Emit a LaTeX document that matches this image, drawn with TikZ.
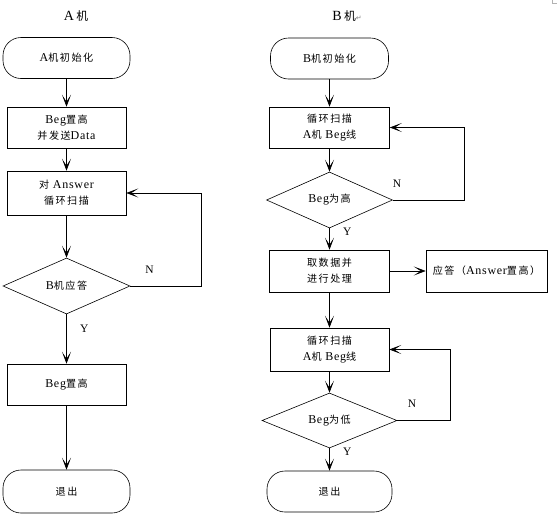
\documentclass[tikz,border=0pt]{standalone}
\usepackage{fontspec}
\setmainfont[LetterSpace=6]{Liberation Serif}
\newfontfamily\zhfont[LetterSpace=15, Scale=0.84]{Noto Sans CJK SC}
\newfontfamily\symfont{DejaVu Sans}
\newcommand\zh[1]{{\zhfont #1}}
\usetikzlibrary{positioning, arrows.meta, shapes.geometric}
\tikzset{
    x=1pt, y=-1pt,
    every node/.style={ % text in allen knoten
        font=\fontsize{12}{16}\selectfont
    },
    start/.style={draw, rounded corners=18pt, minimum height=41pt},
    block/.style={draw, minimum width=119pt, minimum height=41pt, align=center},
    check/.style={draw, diamond, aspect=2.3, minimum width=127pt,
        minimum height=56pt, inner sep=0pt},
    title/.style={font=\fontsize{14}{14}\selectfont},
    every edge/.style={ % pfeile zwischen den knoten
        draw,
        -{Stealth[length=12pt,width=9pt,inset=7pt]},
        line width=0.6pt
    },
    flow/.style={-{Stealth[length=12pt,width=9pt,inset=7pt]}, line width=0.6pt},
    lbl/.style={font=\fontsize{11.5}{12}\selectfont}
}
\begin{document}
\begin{tikzpicture}[line width=0.6pt]
    \useasboundingbox (0,0) rectangle (557,520);
    % A-seite
    \node[title]                                 (titA)   at (76,16)      {A\,\zh{机}};
    \node[start, minimum width=127pt]            (initA)  at (66.5,58)    {A\zh{机初始化}};
    \node[block]                                 (setA)   at (66.5,127.5) {Beg\zh{置高}\\\zh{并发送}Data};
    \node[block, minimum height=44pt]            (scanA)  at (66.5,193)   {\zh{对} Answer\\\zh{循环扫描}};
    \node[check]                                 (askA)   at (66.5,286)   {B\zh{机应答}};
    \node[block]                                 (highA)  at (66.5,384.5) {Beg\zh{置高}};
    \node[start, minimum width=127pt,
          minimum height=43pt]                   (quitA)  at (66.5,491.5) {\zh{退出}};
    % B-seite
    \node[title]                                 (titB)   at (347,16)
        {B\,\zh{机}{\symfont\fontsize{7}{7}\selectfont\color{gray}↵}};
    \node[start, minimum width=118pt]            (initB)  at (329.5,58.5) {B\zh{机初始化}};
    \node[block, minimum width=120pt]            (scanB)  at (329.5,127.5) {\zh{循环扫描}\\A\zh{机} Beg\zh{线}};
    \node[check, minimum width=126pt]            (highB)  at (329.5,200)  {Beg\zh{为高}};
    \node[block, minimum width=120pt,
          minimum height=42pt]                   (takeB)  at (329.5,271)  {\zh{取数据并}\\\zh{进行处理}};
    \node[block, minimum width=121pt,
          minimum height=42pt]                   (ansB)   at (486.5,271)  {\zh{应答（}Answer\zh{置高）}};
    \node[block, minimum height=43pt]            (scanB2) at (329.5,349.5) {\zh{循环扫描}\\A\zh{机} Beg\zh{线}};
    \node[check, minimum width=135pt,
          minimum height=55pt]                   (lowB)   at (329.5,420.5) {Beg\zh{为低}};
    \node[start, minimum width=125pt]            (quitB)  at (329.5,491.5) {\zh{退出}};

    \draw
        % A-seite
        (initA)  edge                               (setA)
        (setA)   edge                               (scanA)
        (scanA)  edge                               (askA)
        (askA)   edge node[lbl, pos=0.3, right=10pt]  {Y} (highA)
        (highA)  edge                               (quitA)
        % B-seite
        (initB)  edge                               (scanB)
        (scanB)  edge                               (highB)
        (highB)  edge node[lbl, pos=0.15, right=10pt] {Y} (takeB)
        (takeB)  edge                               (ansB)
        (takeB)  edge                               (scanB2)
        (scanB2) edge                               (lowB)
        (lowB)   edge node[lbl, pos=0.17, right=10pt] {Y} (quitB)
    ;
    % schleifen
    \draw[flow] (askA.east) -- node[lbl, pos=0.27, above=9pt] {N} ++(71,0) |- (scanA.east);
    \draw[flow] (highB.east) -- node[lbl, pos=0.06, above=9pt] {N} ++(71,0) |- (scanB.east);
    \draw[flow] (lowB.east) -- node[lbl, pos=0.28, above=9pt] {N} ++(53,0) |- (scanB2.east);
    % ecke oben rechts
    \draw[gray!60] (552,0) -- (552,3) -- (557,3);
\end{tikzpicture}
\end{document}
